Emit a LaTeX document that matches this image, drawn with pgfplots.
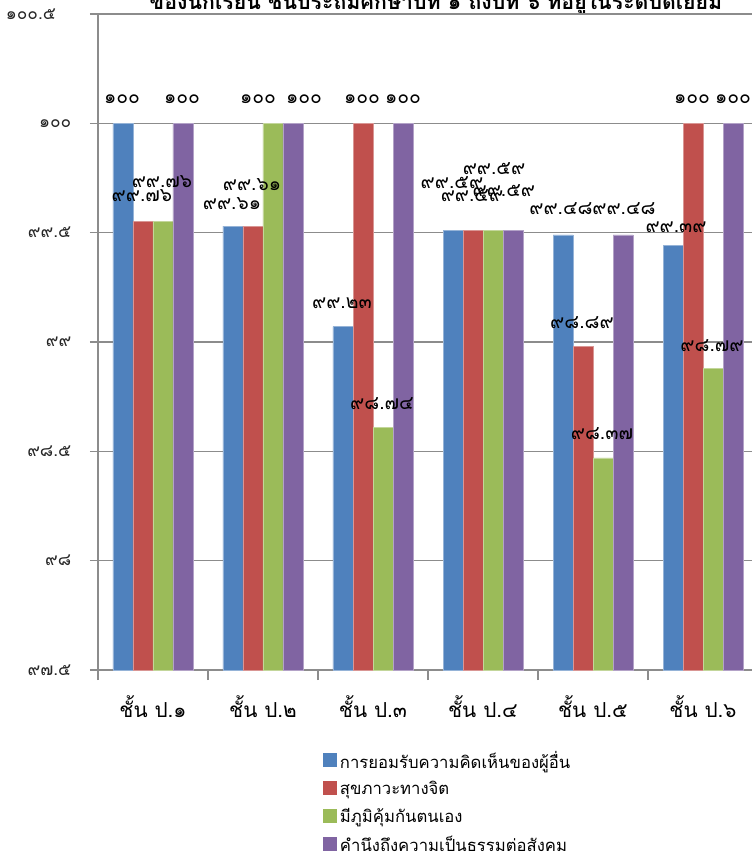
\documentclass[border=0pt]{standalone}
\usepackage{fontspec}
\usepackage{pgfplots}
\pgfplotsset{compat=1.18}
\setmainfont{Loma}[Script=Thai]
\newfontfamily\thaifont[Script=Thai]{Loma}
\definecolor{cblue}{HTML}{4F81BD}
\definecolor{cred}{HTML}{C0504D}
\definecolor{cgreen}{HTML}{9BBB59}
\definecolor{cpurple}{HTML}{8064A2}
\definecolor{gridc}{HTML}{8C8C8C}
\pgfplotsset{sw/.style={legend image code/.code={\fill[##1,draw=none] (0pt,-4.5pt) rectangle (10.5pt,6pt);}}}
\begin{document}
\begin{tikzpicture}
\useasboundingbox (0,0) rectangle (564pt,640.5pt);
\clip (0,0) rectangle (564pt,640.5pt);
\node[anchor=base, font=\thaifont\bfseries\fontsize{16}{19}\selectfont] at (327pt,633pt) {ของนักเรียน ชั้นประถมศึกษาปีที่ ๑ ถึงปีที่ ๖ ที่อยู่ในระดับดีเยี่ยม};
\begin{axis}[
  at={(73.5pt,138pt)}, anchor=south west, scale only axis,
  width=495pt, height=492pt,
  xmin=-0.5, xmax=5.5, ymin=97.5, ymax=100.5,
  axis lines*=left, axis line style={-, draw=gridc, line width=1.1pt},
  ytick={97.5,98,98.5,99,99.5,100},
  yticklabels={๙๗.๕,๙๘,๙๘.๕,๙๙,๙๙.๕,๑๐๐},
  extra y ticks={100.5},
  extra y tick labels={๑๐๐.๕},
  extra y tick style={yticklabel style={xshift=-11.5pt}},
  xtick={0,1,2,3,4,5},
  xticklabels={ชั้น ป.๑,ชั้น ป.๒,ชั้น ป.๓,ชั้น ป.๔,ชั้น ป.๕,ชั้น ป.๖},
  minor xtick={-0.5,0.5,1.5,2.5,3.5,4.5,5.5},
  tick align=outside,
  major tick length=6pt, minor tick length=7.5pt,
  major x tick style={draw=none},
  minor x tick style={draw=gridc, line width=1.1pt},
  ytick style={draw=gridc, line width=1.1pt},
  ymajorgrids, major grid style={draw=gridc, line width=1.1pt},
  yticklabel style={font=\thaifont\fontsize{13}{15}\selectfont, text=black!85, xshift=-10.5pt},
  xticklabel style={font=\thaifont\fontsize{15.5}{18}\selectfont, text=black, yshift=-10pt},
  legend style={at={(0.341,-0.119)}, anchor=north west, draw=none, fill=none,
    font=\thaifont\fontsize{12.5}{15}\selectfont, row sep=4.6pt, cells={anchor=west}, inner sep=0pt},
]
\addplot[ybar, bar width=15pt, bar shift=-22.5pt, fill=cblue, draw=cblue!60!white, line width=0.5pt, sw] coordinates {(0,100) (1,99.53) (2,99.07) (3,99.51) (4,99.49) (5,99.44)};
\addplot[ybar, bar width=15pt, bar shift=-7.5pt, fill=cred, draw=cred!60!white, line width=0.5pt, sw] coordinates {(0,99.55) (1,99.53) (2,100) (3,99.51) (4,98.98) (5,100)};
\addplot[ybar, bar width=15pt, bar shift=7.5pt, fill=cgreen, draw=cgreen!60!white, line width=0.5pt, sw] coordinates {(0,99.55) (1,100) (2,98.61) (3,99.51) (4,98.47) (5,98.88)};
\addplot[ybar, bar width=15pt, bar shift=22.5pt, fill=cpurple, draw=cpurple!60!white, line width=0.5pt, sw] coordinates {(0,100) (1,100) (2,100) (3,99.51) (4,99.49) (5,100)};
\legend{การยอมรับความคิดเห็นของผู้อื่น,สุขภาวะทางจิต,มีภูมิคุ้มกันตนเอง,คำนึงถึงความเป็นธรรมต่อสังคม}
\addplot[draw=none, mark=none, forget plot, nodes near coords, point meta=explicit symbolic,
  nodes near coords style={anchor=center, inner sep=0pt, text=black, font=\thaifont\fontsize{14.5}{17}\selectfont}]
coordinates {
(-0.282,100.11) [๑๐๐]
(-0.1,99.671) [๙๙.๗๖]
(0.082,99.735) [๙๙.๗๖]
(0.264,100.11) [๑๐๐]
(0.718,99.634) [๙๙.๖๑]
(0.9,99.721) [๙๙.๖๑]
(0.955,100.11) [๑๐๐]
(1.373,100.11) [๑๐๐]
(1.718,99.177) [๙๙.๒๓]
(1.9,100.11) [๑๐๐]
(2.082,98.720) [๙๘.๗๔]
(2.273,100.11) [๑๐๐]
(2.718,99.730) [๙๙.๕๙]
(2.9,99.671) [๙๙.๕๙]
(3.1,99.794) [๙๙.๕๙]
(3.19,99.694) [๙๙.๕๙]
(3.709,99.612) [๙๙.๔๘]
(3.9,99.090) [๙๘.๘๙]
(4.082,98.583) [๙๘.๓๗]
(4.282,99.612) [๙๙.๔๘]
(4.755,99.525) [๙๙.๓๙]
(4.9,100.11) [๑๐๐]
(5.082,98.985) [๙๘.๗๙]
(5.273,100.11) [๑๐๐]
};
\end{axis}
\end{tikzpicture}
\end{document}
